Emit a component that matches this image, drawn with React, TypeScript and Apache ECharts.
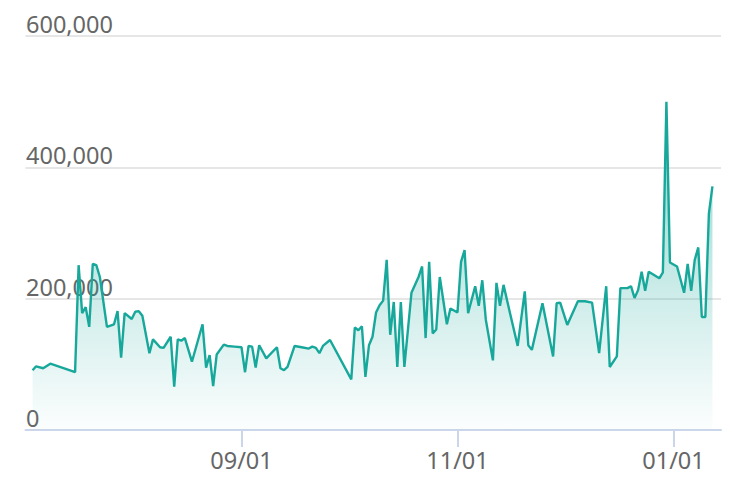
import React, { useEffect, useRef } from "react";
import * as echarts from "echarts";

const dates = [
  "2023-07-04", "2023-07-05", "2023-07-07", "2023-07-09", "2023-07-15", "2023-07-16",
  "2023-07-17", "2023-07-18", "2023-07-19", "2023-07-20", "2023-07-21", "2023-07-22",
  "2023-07-23", "2023-07-25", "2023-07-27", "2023-07-28", "2023-07-29", "2023-07-30",
  "2023-08-01", "2023-08-02", "2023-08-03", "2023-08-04", "2023-08-06", "2023-08-07",
  "2023-08-09", "2023-08-10", "2023-08-12", "2023-08-13", "2023-08-14", "2023-08-15",
  "2023-08-16", "2023-08-18", "2023-08-21", "2023-08-22", "2023-08-23", "2023-08-24",
  "2023-08-25", "2023-08-27", "2023-08-28", "2023-08-30", "2023-09-01", "2023-09-02",
  "2023-09-03", "2023-09-04", "2023-09-05", "2023-09-06", "2023-09-08", "2023-09-11",
  "2023-09-12", "2023-09-13", "2023-09-14", "2023-09-16", "2023-09-18", "2023-09-20",
  "2023-09-21", "2023-09-22", "2023-09-23", "2023-09-24", "2023-09-26", "2023-10-02",
  "2023-10-03", "2023-10-04", "2023-10-05", "2023-10-06", "2023-10-07", "2023-10-08",
  "2023-10-09", "2023-10-10", "2023-10-11", "2023-10-12", "2023-10-13", "2023-10-14",
  "2023-10-15", "2023-10-16", "2023-10-17", "2023-10-19", "2023-10-21", "2023-10-22",
  "2023-10-23", "2023-10-24", "2023-10-25", "2023-10-26", "2023-10-27", "2023-10-29",
  "2023-10-30", "2023-11-01", "2023-11-02", "2023-11-03", "2023-11-04", "2023-11-06",
  "2023-11-07", "2023-11-08", "2023-11-09", "2023-11-11", "2023-11-12", "2023-11-13",
  "2023-11-14", "2023-11-16", "2023-11-18", "2023-11-20", "2023-11-21", "2023-11-22",
  "2023-11-25", "2023-11-28", "2023-11-29", "2023-11-30", "2023-12-02", "2023-12-05",
  "2023-12-07", "2023-12-09", "2023-12-11", "2023-12-13", "2023-12-14", "2023-12-16",
  "2023-12-17", "2023-12-19", "2023-12-20", "2023-12-21", "2023-12-22", "2023-12-23",
  "2023-12-24", "2023-12-25", "2023-12-28", "2023-12-29", "2023-12-30", "2023-12-31",
  "2024-01-02", "2024-01-04", "2024-01-05", "2024-01-06", "2024-01-07", "2024-01-08",
  "2024-01-09", "2024-01-10", "2024-01-11", "2024-01-12",
];

const values = [
  91000, 97000, 94000, 101000, 90000, 88000,
  251000, 178000, 187000, 157000, 253000, 251000,
  233000, 157000, 161000, 181000, 110000, 178000,
  169000, 180000, 181000, 174000, 117000, 138000,
  126000, 125000, 142000, 66000, 138000, 136000,
  140000, 104000, 161000, 95000, 114000, 67000,
  115000, 130000, 128000, 127000, 126000, 88000,
  128000, 127000, 95000, 129000, 109000, 126000,
  94000, 91000, 96000, 128000, 126000, 124000,
  127000, 125000, 117000, 128000, 137000, 77000,
  156000, 152000, 158000, 81000, 129000, 142000,
  179000, 190000, 197000, 259000, 145000, 195000,
  96000, 195000, 96000, 209000, 233000, 249000,
  140000, 256000, 147000, 153000, 233000, 161000,
  185000, 179000, 256000, 274000, 178000, 219000,
  189000, 228000, 168000, 106000, 224000, 189000,
  221000, 174000, 128000, 211000, 129000, 122000,
  193000, 112000, 193000, 194000, 160000, 196000,
  196000, 194000, 117000, 219000, 96000, 112000,
  216000, 216000, 219000, 201000, 213000, 241000,
  212000, 241000, 231000, 240000, 500000, 255000,
  249000, 209000, 253000, 212000, 259000, 278000,
  172000, 172000, 330000, 371000,
];

const xTickDates = ["2023-09-01", "2023-11-01", "2024-01-01"];
const yTickValues = [0, 200000, 400000, 600000];
const xRange = ["2023-07-02T00:00", "2024-01-14T10:00"];

const toTime = (s: string) => {
  const [y, m, d] = s.slice(0, 10).split("-").map(Number);
  let t = Date.UTC(y, m - 1, d);
  if (s.length > 10) {
    const [hh, mm] = s.slice(11).split(":").map(Number);
    t += (hh * 60 + mm) * 60000;
  }
  return t;
};

export default function App() {
  const ref = useRef<HTMLDivElement>(null);
  useEffect(() => {
    document.body.style.margin = "0";
    if (!ref.current) return;
    const chart = echarts.init(ref.current, undefined, { renderer: "svg" });
    const teal = "#17a89b";
    const font = "'Noto Sans', 'Open Sans', sans-serif";
    const xTicks = xTickDates.map(toTime);
    chart.setOption({
      animation: false,
      grid: { left: 25.5, right: 31, top: 36, bottom: 68, containLabel: false },
      xAxis: {
        type: "value",
        min: toTime(xRange[0]),
        max: toTime(xRange[1]),
        axisLine: { show: true, lineStyle: { color: "#ccd6eb", width: 2 } },
        axisTick: {
          show: true,
          length: 17,
          lineStyle: { color: "#ccd6eb", width: 2 },
          customValues: xTicks,
        },
        axisLabel: {
          customValues: xTicks,
          formatter: (v: number) => {
            const d = new Date(v);
            const mm = String(d.getUTCMonth() + 1).padStart(2, "0");
            const dd = String(d.getUTCDate()).padStart(2, "0");
            return mm + "/" + dd;
          },
          color: "#666666",
          fontSize: 23.5,
          fontFamily: font,
          margin: 18,
        },
        splitLine: { show: false },
      },
      yAxis: {
        type: "value",
        min: yTickValues[0],
        max: yTickValues[yTickValues.length - 1],
        interval: yTickValues[1] - yTickValues[0],
        axisLine: { show: false },
        axisTick: { show: false },
        splitLine: { lineStyle: { color: "#e6e6e6", width: 2 } },
        axisLabel: {
          inside: true,
          margin: 0.5,
          verticalAlign: "bottom",
          color: "#666666",
          fontSize: 23.5,
          fontFamily: font,
          formatter: (v: number) => v.toLocaleString("en-US"),
        },
      },
      series: [
        {
          type: "line",
          data: dates.map((d, i) => [toTime(d), values[i]]),
          showSymbol: false,
          symbol: "none",
          lineStyle: { color: teal, width: 2.4 },
          itemStyle: { color: teal },
          areaStyle: {
            color: new echarts.graphic.LinearGradient(0, 36, 0, 430, [
              { offset: 0, color: "rgba(23,168,155,0.85)" },
              { offset: 1, color: "rgba(23,168,155,0.02)" },
            ], true),
          },
        },
      ],
    });
    return () => chart.dispose();
  }, []);
  return <div ref={ref} style={{ width: 752, height: 498 }} />;
}
